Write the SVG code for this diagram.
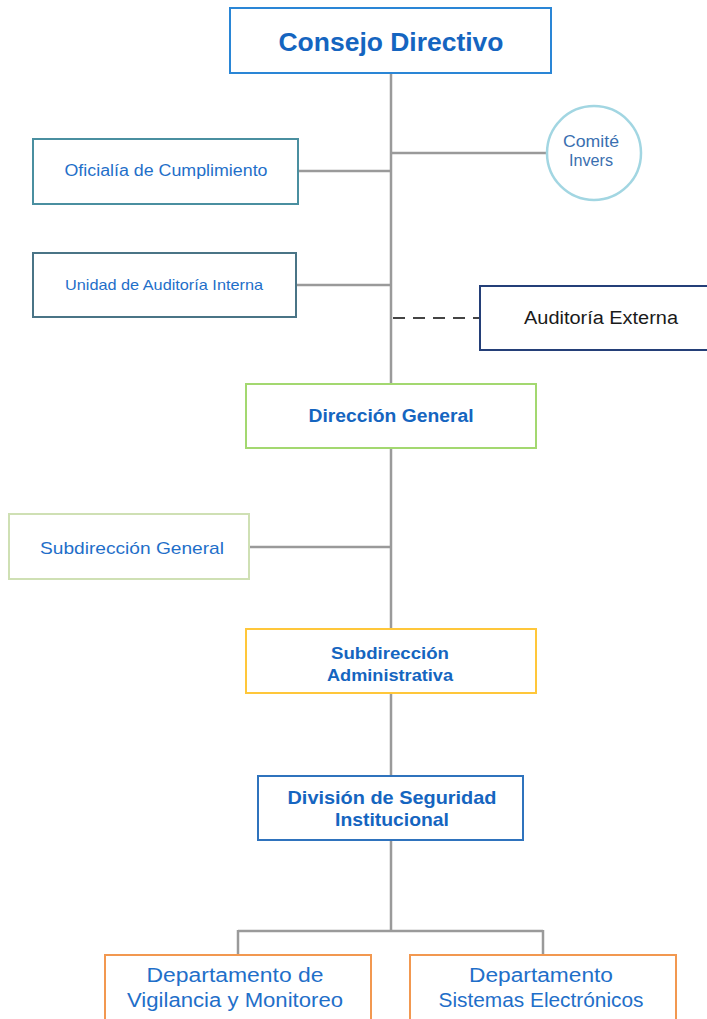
<svg xmlns="http://www.w3.org/2000/svg" width="707" height="1019" viewBox="0 0 707 1019">
<style>
.box{fill:#fff;stroke-width:2}
.t{font-family:"Liberation Sans",Arial,sans-serif;fill:#1f6fc9;text-anchor:middle}
.b{font-weight:bold;fill:#1565c0}
.c{fill:#3a6fb0}
.k{fill:#1a1a1a}
.ln{stroke:#9a9a9a;stroke-width:2.5;fill:none}
</style>
<rect width="707" height="1019" fill="#fff"/>
<g id="connectors">
<path class="ln" d="M391 73V384M391 153H547M298 171H391M296 285H391M391 448V629M249 547H391M391 693V776M391 840V931M238 931H543M238 930V955M543 930V955"/>
<path d="M393 318H480" stroke="#444" stroke-width="2.2" stroke-dasharray="12 8" fill="none"/>
</g>
<g id="consejo"><rect class="box" x="230" y="8" width="321" height="65" stroke="#2a86d6"/><text class="t b" x="391" y="51" font-size="26" textLength="225" lengthAdjust="spacingAndGlyphs">Consejo Directivo</text></g>
<g id="comite"><circle cx="594" cy="153" r="47" fill="#fff" stroke="#a2d6e2" stroke-width="2.5"/><text class="t c" x="591" y="147" font-size="16" textLength="56" lengthAdjust="spacingAndGlyphs">Comité</text><text class="t c" x="591" y="166" font-size="16" textLength="44" lengthAdjust="spacingAndGlyphs">Invers</text></g>
<g id="oficialia"><rect class="box" x="33" y="139" width="265" height="65" stroke="#4a8fa0"/><text class="t" x="166" y="176" font-size="16" textLength="203" lengthAdjust="spacingAndGlyphs">Oficialía de Cumplimiento</text></g>
<g id="unidad"><rect class="box" x="33" y="253" width="263" height="64" stroke="#4a7486"/><text class="t" x="164" y="290" font-size="14.5" textLength="198" lengthAdjust="spacingAndGlyphs">Unidad de Auditoría Interna</text></g>
<g id="externa"><rect class="box" x="480" y="286" width="240" height="64" stroke="#243f78"/><text class="t k" x="601" y="324" font-size="18" textLength="154" lengthAdjust="spacingAndGlyphs">Auditoría Externa</text></g>
<g id="direccion"><rect class="box" x="246" y="384" width="290" height="64" stroke="#a3d870"/><text class="t b" x="391" y="422" font-size="18" textLength="165" lengthAdjust="spacingAndGlyphs">Dirección General</text></g>
<g id="subgeneral"><rect class="box" x="9" y="514" width="240" height="65" stroke="#cfe0b4"/><text class="t" x="132" y="554" font-size="17" textLength="184" lengthAdjust="spacingAndGlyphs">Subdirección General</text></g>
<g id="subadmin"><rect class="box" x="246" y="629" width="290" height="64" stroke="#ffc73a"/><text class="t b" x="390" y="659" font-size="17" textLength="118" lengthAdjust="spacingAndGlyphs">Subdirección</text><text class="t b" x="390" y="681" font-size="17" textLength="126" lengthAdjust="spacingAndGlyphs">Administrativa</text></g>
<g id="division"><rect class="box" x="258" y="776" width="265" height="64" stroke="#2f73bd"/><text class="t b" x="392" y="804" font-size="19" textLength="209" lengthAdjust="spacingAndGlyphs">División de Seguridad</text><text class="t b" x="392" y="826" font-size="19" textLength="114" lengthAdjust="spacingAndGlyphs">Institucional</text></g>
<g id="vigilancia"><rect class="box" x="105" y="955" width="266" height="80" stroke="#f29850"/><text class="t" x="235" y="982" font-size="20" textLength="177" lengthAdjust="spacingAndGlyphs">Departamento de</text><text class="t" x="235" y="1007" font-size="20" textLength="216" lengthAdjust="spacingAndGlyphs">Vigilancia y Monitoreo</text></g>
<g id="sistemas"><rect class="box" x="410" y="955" width="266" height="80" stroke="#f29850"/><text class="t" x="541" y="982" font-size="20" textLength="144" lengthAdjust="spacingAndGlyphs">Departamento</text><text class="t" x="541" y="1007" font-size="20" textLength="205" lengthAdjust="spacingAndGlyphs">Sistemas Electrónicos</text></g>
</svg>
